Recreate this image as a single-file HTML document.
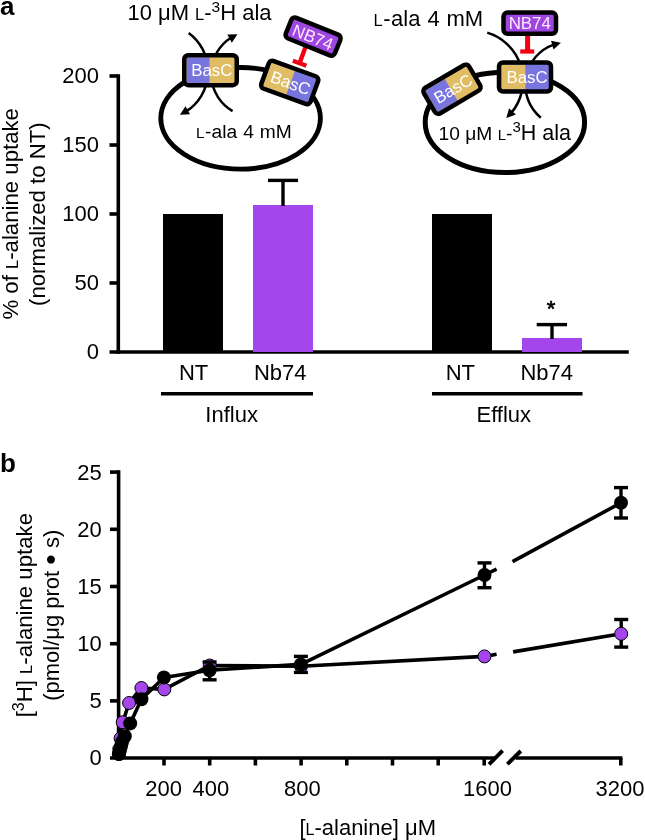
<!DOCTYPE html>
<html><head><meta charset="utf-8">
<style>
html,body{margin:0;padding:0;background:#fff;}
body{width:645px;height:840px;overflow:hidden;}
svg{display:block;font-family:"Liberation Sans",sans-serif;will-change:transform;}
</style></head>
<body>
<svg width="645" height="840" viewBox="0 0 645 840">
<rect width="645" height="840" fill="#fff"/>
<text x="0" y="15" font-size="26" font-weight="bold">a</text>
<g stroke="#000" stroke-width="3.6" fill="none">
  <line x1="118.3" y1="74.2" x2="118.3" y2="353.8"/>
  <line x1="109.5" y1="76" x2="118.3" y2="76"/>
  <line x1="109.5" y1="145" x2="118.3" y2="145"/>
  <line x1="109.5" y1="214" x2="118.3" y2="214"/>
  <line x1="109.5" y1="283" x2="118.3" y2="283"/>
  <line x1="109.5" y1="352" x2="628.8" y2="352"/>
</g>
<g font-size="22" text-anchor="end">
  <text x="99" y="82.8">200</text>
  <text x="99" y="151.8">150</text>
  <text x="99" y="220.8">100</text>
  <text x="99" y="289.8">50</text>
  <text x="99" y="358.8">0</text>
</g>
<g font-size="22" text-anchor="middle">
  <text transform="translate(18.3,213.8) rotate(-90)" font-size="22.2">% of <tspan font-size="16.5">L</tspan>-alanine uptake</text>
  <text transform="translate(44.7,214.1) rotate(-90)" font-size="22.2">(normalized to NT)</text>
</g>
<rect x="163" y="214" width="60" height="138" fill="#000"/>
<rect x="253" y="205" width="60" height="147" fill="#A546EC"/>
<rect x="432" y="214" width="60" height="138" fill="#000"/>
<rect x="522" y="338" width="60" height="14" fill="#A546EC"/>
<g stroke="#000" stroke-width="3.4">
  <line x1="283" y1="206" x2="283" y2="180.4"/>
  <line x1="268" y1="180.4" x2="298" y2="180.4"/>
  <line x1="552" y1="339" x2="552" y2="324.6"/>
  <line x1="536.7" y1="324.6" x2="567" y2="324.6"/>
</g>
<text x="551" y="316.2" font-size="22" text-anchor="middle" stroke="#000" stroke-width="0.7">*</text>
<g font-size="22" text-anchor="middle">
  <text x="193.6" y="380">NT</text>
  <text x="280.2" y="380">Nb74</text>
  <text x="460.3" y="380">NT</text>
  <text x="546.7" y="380">Nb74</text>
  <text x="231.6" y="422.4">Influx</text>
  <text x="503.8" y="422.4">Efflux</text>
</g>
<g stroke="#000" stroke-width="3.6">
  <line x1="161" y1="393.8" x2="313" y2="393.8"/>
  <line x1="432" y1="393.8" x2="582.5" y2="393.8"/>
</g>
<text x="127.4" y="20.4" font-size="22">10 μM <tspan font-size="16.5">L</tspan>-<tspan font-size="15.5" dy="-8.6">3</tspan><tspan dy="8.6">H ala</tspan></text>
<ellipse cx="240.6" cy="118.3" rx="79.8" ry="50.8" fill="none" stroke="#000" stroke-width="4.9"/>
<path d="M188.68,32.94 A47.60,47.60 0 0 1 186.51,111.16" fill="none" stroke="#000" stroke-width="2.50"/>
<path d="M179.94,114.75 L185.50,106.31 L190.03,114.32 z" fill="#000"/>
<path d="M232.57,111.06 A43.00,43.00 0 0 1 230.85,37.79" fill="none" stroke="#000" stroke-width="2.50"/>
<path d="M237.47,34.29 L231.81,42.67 L227.37,34.61 z" fill="#000"/>
<g transform="translate(210.50,70.20) rotate(0.00)">
<rect x="-26.25" y="-15.00" width="52.50" height="30.00" rx="4" fill="#E0BC64"/>
<rect x="-24.00" y="-12.75" width="23.00" height="25.50" fill="#7876DE"/>
<rect x="-26.25" y="-15.00" width="52.50" height="30.00" rx="4" fill="none" stroke="#000" stroke-width="4.50"/>
<text x="1.30" y="6.00" font-size="16.80" fill="#fff" text-anchor="middle">BasC</text>
</g>
<g transform="translate(289.70,82.50) rotate(20.00)">
<rect x="-26.25" y="-14.75" width="52.50" height="29.50" rx="4" fill="#7876DE"/>
<rect x="-24.00" y="-12.50" width="25.00" height="25.00" fill="#E0BC64"/>
<rect x="-26.25" y="-14.75" width="52.50" height="29.50" rx="4" fill="none" stroke="#000" stroke-width="4.50"/>
<text x="1.00" y="6.00" font-size="16.80" fill="#fff" text-anchor="middle">BasC</text>
</g>
<g transform="translate(289.6,82) rotate(20)"><line x1="3" y1="-22" x2="3" y2="-42" stroke="#F20012" stroke-width="4.4"/><line x1="-4.2" y1="-21" x2="10.2" y2="-21" stroke="#F20012" stroke-width="4.2"/></g>
<g transform="translate(313.10,36.60) rotate(22.00)">
<rect x="-26.50" y="-11.15" width="53.00" height="22.30" rx="4" fill="#9E46E2" stroke="#000" stroke-width="4.50"/>
<text x="0" y="6.40" font-size="16.90" fill="#FFEAFF" text-anchor="middle">NB74</text>
</g>
<text x="196" y="137.6" font-size="19.2" word-spacing="0.6"><tspan font-size="15.3">L</tspan><tspan dx="0.4">-</tspan><tspan dx="0.3">ala 4 mM</tspan></text>
<text x="373.5" y="26" font-size="22" word-spacing="0.8"><tspan font-size="16.5">L</tspan><tspan dx="0.6">-</tspan><tspan dx="0.5">ala 4 mM</tspan></text>
<ellipse cx="504.9" cy="122.4" rx="79.7" ry="50.1" fill="none" stroke="#000" stroke-width="5"/>
<path d="M487.23,32.62 A50.20,50.20 0 0 1 511.51,112.66" fill="none" stroke="#000" stroke-width="2.50"/>
<path d="M506.33,118.06 L509.09,108.34 L515.83,114.61 z" fill="#000"/>
<path d="M540.80,117.67 A42.60,42.60 0 0 1 553.69,44.64" fill="none" stroke="#000" stroke-width="2.50"/>
<path d="M560.94,42.77 L553.49,49.60 L551.04,40.74 z" fill="#000"/>
<g transform="translate(525.00,77.00) rotate(0.00)">
<rect x="-26.00" y="-14.50" width="52.00" height="29.00" rx="4" fill="#7876DE"/>
<rect x="-23.75" y="-12.25" width="24.15" height="24.50" fill="#E0BC64"/>
<rect x="-26.00" y="-14.50" width="52.00" height="29.00" rx="4" fill="none" stroke="#000" stroke-width="4.50"/>
<text x="2.00" y="5.60" font-size="16.80" fill="#fff" text-anchor="middle">BasC</text>
</g>
<line x1="527.6" y1="36" x2="527.6" y2="50" stroke="#F20012" stroke-width="5"/><line x1="520.2" y1="51.5" x2="534.2" y2="51.5" stroke="#F20012" stroke-width="4.2"/>
<g transform="translate(529.75,23.20) rotate(0.00)">
<rect x="-26.25" y="-10.65" width="52.50" height="21.30" rx="4" fill="#9E46E2" stroke="#000" stroke-width="4.50"/>
<text x="0" y="5.60" font-size="16.90" fill="#FFEAFF" text-anchor="middle">NB74</text>
</g>
<g transform="translate(452.00,89.20) rotate(-30.50)">
<rect x="-26.25" y="-14.75" width="52.50" height="29.50" rx="4" fill="#E0BC64"/>
<rect x="-24.00" y="-12.50" width="23.00" height="25.00" fill="#7876DE"/>
<rect x="-26.25" y="-14.75" width="52.50" height="29.50" rx="4" fill="none" stroke="#000" stroke-width="4.50"/>
<text x="1.00" y="6.00" font-size="16.80" fill="#fff" text-anchor="middle">BasC</text>
</g>
<text x="438.6" y="140.2" font-size="19.2">10 μM <tspan font-size="15">L</tspan>-<tspan font-size="15" dy="-8.6">3</tspan><tspan dy="8.6" font-size="21.5">H ala</tspan></text>
<text x="0" y="472" font-size="26" font-weight="bold">b</text>
<g stroke="#000" stroke-width="3.6" fill="none">
<line x1="118.6" y1="470.3" x2="118.6" y2="759.8"/>
<line x1="110" y1="472.1" x2="118.5" y2="472.1"/>
<line x1="110" y1="529.3" x2="118.5" y2="529.3"/>
<line x1="110" y1="586.5" x2="118.5" y2="586.5"/>
<line x1="110" y1="643.7" x2="118.5" y2="643.7"/>
<line x1="110" y1="700.9" x2="118.5" y2="700.9"/>
<line x1="110" y1="758" x2="495" y2="758"/>
<line x1="515.6" y1="758" x2="622.4" y2="758"/>
<line x1="164.0" y1="758" x2="164.0" y2="765.5"/>
<line x1="209.7" y1="758" x2="209.7" y2="765.5"/>
<line x1="255.4" y1="758" x2="255.4" y2="765.5"/>
<line x1="301.1" y1="758" x2="301.1" y2="765.5"/>
<line x1="346.8" y1="758" x2="346.8" y2="765.5"/>
<line x1="392.5" y1="758" x2="392.5" y2="765.5"/>
<line x1="438.2" y1="758" x2="438.2" y2="765.5"/>
<line x1="484.2" y1="758" x2="484.2" y2="765.5"/>
<line x1="620.8" y1="758" x2="620.8" y2="765.5"/>
<line x1="489" y1="764.3" x2="502.6" y2="750.7" stroke-width="4"/>
<line x1="507.4" y1="764.1" x2="520.8" y2="751" stroke-width="4"/>
</g>
<g font-size="22" text-anchor="end">
  <text x="101.8" y="479.6">25</text>
  <text x="101.8" y="536.8">20</text>
  <text x="101.8" y="594">15</text>
  <text x="101.8" y="651.2">10</text>
  <text x="101.8" y="708.4">5</text>
  <text x="101.8" y="765.2">0</text>
</g>
<g font-size="22" text-anchor="middle">
  <text x="163.7" y="796">200</text>
  <text x="210.8" y="796">400</text>
  <text x="302.3" y="796">800</text>
  <text x="487.4" y="796">1600</text>
  <text x="620" y="796">3200</text>
  <text x="367.7" y="834.5">[<tspan font-size="16">L</tspan>-alanine] μM</text>
</g>
<g font-size="22" text-anchor="middle">
  <text transform="translate(32,615.2) rotate(-90)" font-size="22.2">[<tspan font-size="16" dy="-8.5">3</tspan><tspan dy="8.5">H] </tspan><tspan font-size="16.5">L</tspan>-alanine uptake</text>
  <text transform="translate(59,615.3) rotate(-90)">(pmol/μg prot <tspan font-size="30" dy="1.5">•</tspan><tspan dy="-1.5"> s)</tspan></text>
</g>
<g stroke="#000" stroke-width="3.4" fill="none"><line x1="621.2" y1="619.5" x2="621.2" y2="647.1"/><line x1="614.2" y1="619.5" x2="628.2" y2="619.5"/><line x1="614.2" y1="647.1" x2="628.2" y2="647.1"/>
</g>
<g stroke="#000" stroke-width="3.6" fill="none" stroke-linejoin="round"><polyline points="118.5,757 118.8,754.0 119.3,749.0 120.6,738.4 122.7,722.3 129.1,703.0 141.4,688.0 164.3,689.4 209.7,665.5 301.0,666.3 484.5,656.4 496.6,654.2"/><line x1="513.1" y1="651.9" x2="621.2" y2="633.8"/></g>
<g fill="#A546EC" stroke="#000" stroke-width="1"><circle cx="118.8" cy="754.0" r="6.5"/><circle cx="119.3" cy="749.0" r="6.5"/><circle cx="120.6" cy="738.4" r="6.5"/><circle cx="122.7" cy="722.3" r="6.5"/><circle cx="129.1" cy="703.0" r="6.5"/><circle cx="141.4" cy="688.0" r="6.5"/><circle cx="164.3" cy="689.4" r="6.5"/><circle cx="209.7" cy="665.5" r="6.5"/><circle cx="301.0" cy="666.3" r="6.5"/><circle cx="484.5" cy="656.4" r="6.5"/><circle cx="621.2" cy="633.8" r="6.5"/></g>
<g stroke="#000" stroke-width="3.4" fill="none">
<line x1="209.6" y1="662.0" x2="209.6" y2="679.8"/><line x1="202.6" y1="662.0" x2="216.6" y2="662.0"/><line x1="202.6" y1="679.8" x2="216.6" y2="679.8"/>
<line x1="300.9" y1="656.4" x2="300.9" y2="672.4"/><line x1="293.9" y1="656.4" x2="307.9" y2="656.4"/><line x1="293.9" y1="672.4" x2="307.9" y2="672.4"/>
<line x1="484.5" y1="562.9" x2="484.5" y2="587.7"/><line x1="477.5" y1="562.9" x2="491.5" y2="562.9"/><line x1="477.5" y1="587.7" x2="491.5" y2="587.7"/>
<line x1="621.0" y1="487.6" x2="621.0" y2="518.0"/><line x1="614.0" y1="487.6" x2="628.0" y2="487.6"/><line x1="614.0" y1="518.0" x2="628.0" y2="518.0"/>
</g>
<g stroke="#000" stroke-width="3.6" fill="none" stroke-linejoin="round"><polyline points="118.5,757 119.0,754.0 120.0,750.0 121.0,746.0 122.0,742.0 124.8,736.3 130.2,723.4 141.4,699.3 163.9,677.5 209.6,670.2 300.9,664.4 484.5,575.0 496.6,569.2"/><line x1="512.5" y1="561.6" x2="621" y2="502.8"/></g>
<g fill="#000"><circle cx="119.0" cy="754.0" r="7"/><circle cx="120.0" cy="750.0" r="7"/><circle cx="121.0" cy="746.0" r="7"/><circle cx="122.0" cy="742.0" r="7"/><circle cx="124.8" cy="736.3" r="7"/><circle cx="130.2" cy="723.4" r="7"/><circle cx="141.4" cy="699.3" r="7"/><circle cx="163.9" cy="677.5" r="7"/><circle cx="209.6" cy="670.2" r="7"/><circle cx="300.9" cy="664.4" r="7"/><circle cx="484.5" cy="575.0" r="7"/><circle cx="621.0" cy="502.8" r="7"/></g>
</svg>
</body></html>
